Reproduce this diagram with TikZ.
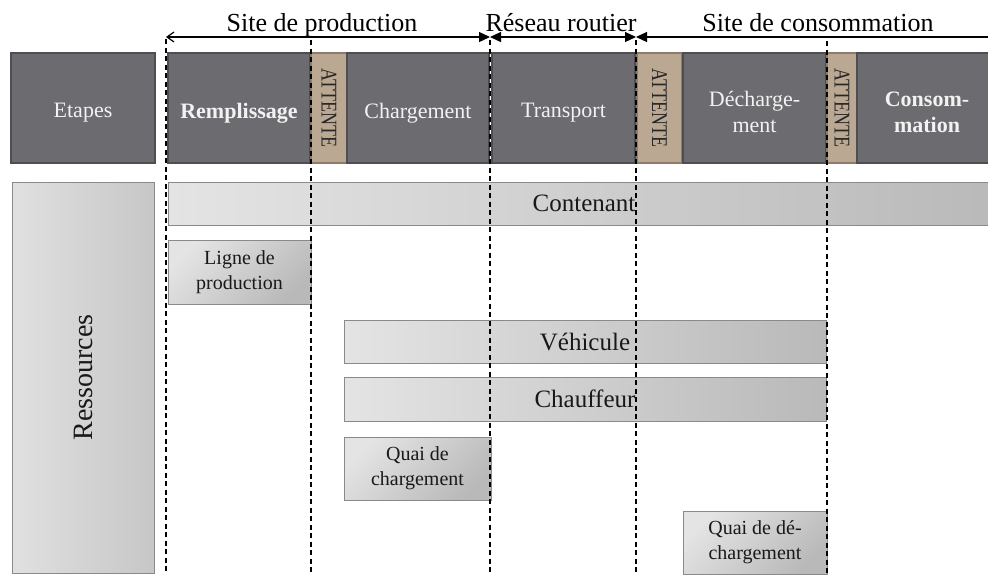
\documentclass[tikz,border=0pt]{standalone}
\usepackage{fontspec}
\setmainfont{Liberation Serif}
\usetikzlibrary{arrows.meta}
\definecolor{stagefill}{HTML}{6C6B70}
\definecolor{stageline}{HTML}{4E4D52}
\definecolor{waitfill}{HTML}{BBA893}
\definecolor{waitline}{HTML}{8E7B69}
\definecolor{resline}{HTML}{8A8A8A}
\definecolor{reslight}{HTML}{E4E4E4}
\definecolor{resdark}{HTML}{B9B9B9}
\definecolor{stagetext}{HTML}{F2F2F2}
\begin{document}
\begin{tikzpicture}[x=1pt,y=-1pt,
  stagebox/.style={draw=stageline, line width=1.6pt, fill=stagefill, inner sep=0pt, minimum height=110pt},
  stagelabel/.style={text=stagetext, inner sep=0pt, align=center, font=\fontsize{22}{26}\selectfont},
  waitbox/.style={draw=waitline, line width=1.6pt, fill=waitfill, inner sep=0pt, minimum height=110pt},
  waittext/.style={rotate=-90, inner sep=0pt, text=black!85, font=\fontsize{18}{18}\selectfont},
  reshbox/.style={draw=resline, line width=1pt, left color=reslight, right color=resdark,
    inner sep=0pt, align=center, text=black!90, font=\fontsize{25}{28}\selectfont},
  resdbox/.style={draw=resline, line width=1pt, top color=reslight, bottom color=resdark, shading angle=45,
    inner sep=0pt, align=center, text=black!90, font=\fontsize{20}{25}\selectfont},
  headlabel/.style={anchor=base, inner sep=0pt, font=\fontsize{26}{26}\selectfont},
  sepline/.style={line width=1.2pt, dash pattern=on 5pt off 3.5pt},
  arrowline/.style={line width=1.2pt},
  tri/.tip={Triangle[length=11pt,width=10pt]},
  barb/.tip={Straight Barb[length=7pt,width=10pt]}
]
\useasboundingbox (0,0) rectangle (988,574);
\clip (0,0) rectangle (988,574);

% stages
\node[stagebox, minimum width=144pt] (etapes) at (83,108) {};
\node[stagebox, minimum width=142pt] (rempl) at (239,108) {};
\node[waitbox, minimum width=36pt] (att1) at (329,108) {};
\node[stagebox, minimum width=142pt] (charg) at (418,108) {};
\node[stagebox, minimum width=143pt] (transp) at (563.5,108) {};
\node[waitbox, minimum width=45pt] (att2) at (659.5,108) {};
\node[stagebox, minimum width=143pt] (dech) at (754.5,108) {};
\node[waitbox, minimum width=30pt] (att3) at (842,108) {};
\node[stagebox, minimum width=140pt] (consom) at (927,108) {};
\node[stagelabel] (etapest) at ([yshift=-5pt]etapes.center) {Etapes};
\node[stagelabel] (emplt) at ([yshift=-5pt]rempl.center) {\bfseries Remplissage};
\node[stagelabel] (chargt) at ([yshift=-5pt]charg.center) {Chargement};
\node[stagelabel] (transpt) at ([yshift=-5pt]transp.center) {Transport};
\node[stagelabel] (decht) at ([yshift=-4pt]dech.center) {Décharge-\\ment};
\node[stagelabel] (consomt) at ([yshift=-4pt]consom.center) {\bfseries Consom-\\\bfseries mation};
\node[waittext] (t1) at (att1.center) {\scalebox{1}[1.25]{ATTENTE}};
\node[waittext] (t2) at (att2.center) {\scalebox{1}[1.25]{ATTENTE}};
\node[waittext] (t3) at (att3.center) {\scalebox{1}[1.25]{ATTENTE}};

% resources
\node[draw=resline, line width=1pt, left color=black!12, right color=black!22, inner sep=0pt,
  minimum width=142pt, minimum height=391pt] (ress) at (83,377.5) {};
\node[rotate=90, inner sep=0pt, text=black!90, font=\fontsize{28}{28}\selectfont] (resst) at (ress.center) {Ressources};
\node[reshbox, minimum width=832pt, minimum height=43pt] (cont) at (584,203.5) {Contenant};
\node[resdbox, minimum width=143pt, minimum height=64pt] (ligne) at (239.5,272) {Ligne de\\production};
\node[reshbox, minimum width=482pt, minimum height=43pt] (veh) at (585,341.5) {Véhicule};
\node[reshbox, minimum width=482pt, minimum height=44pt] (chauf) at (585,399) {Chauffeur};
\node[resdbox, minimum width=147pt, minimum height=63pt] (quai1) at (417.5,468.5) {Quai de\\chargement};
\node[resdbox, minimum width=144pt, minimum height=63pt] (quai2) at (755,542.5) {Quai de dé-\\chargement};

% dashed separators
\coordinate (d1t) at (166,39); \coordinate (d1b) at (166,576);
\coordinate (d2t) at (311,40); \coordinate (d2b) at (311,576);
\coordinate (d3t) at (490,40); \coordinate (d3b) at (490,576);
\coordinate (d4t) at (636,40); \coordinate (d4b) at (636,576);
\coordinate (d5t) at (827,41); \coordinate (d5b) at (827,576);
\draw[sepline] (d1t) -- (d1b);
\draw[sepline] (d2t) -- (d2b);
\draw[sepline] (d3t) -- (d3b);
\draw[sepline] (d4t) -- (d4b);
\draw[sepline] (d5t) -- (d5b);

% header arrows
\coordinate (a0) at (166,37);
\coordinate (a1) at (490,37);
\coordinate (a2) at (636,37);
\coordinate (a3) at (995,37);
\draw[arrowline, {barb}-{tri}] (a0) -- (a1);
\draw[arrowline, {tri}-{tri}] (a1) -- (a2);
\draw[arrowline, {tri}-] (a2) -- (a3);
\node[headlabel] (lprod) at (322,31) {Site de production};
\node[headlabel] (lres) at (561,31) {Réseau routier};
\node[headlabel] (lcons) at (818,31) {Site de consommation};
\end{tikzpicture}
\end{document}
